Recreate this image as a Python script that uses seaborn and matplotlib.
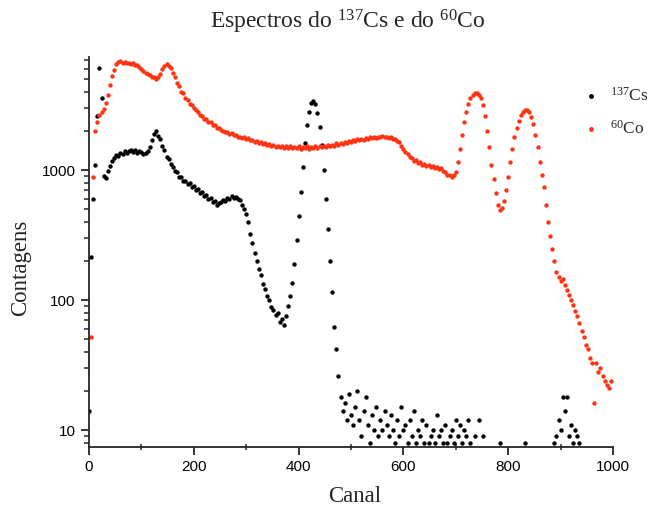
import numpy as np
import pandas as pd
import matplotlib
matplotlib.use("Agg")
import matplotlib.pyplot as plt
import matplotlib.ticker as mticker
import seaborn as sns

nan = np.nan

# channel numbers (every 4th channel of the MCA)
canal = np.arange(0, 1000, 4)

# 137Cs counts
cs_contagens = [
    14, 215, 600, 1100, 2600, 6100, 3600, 900, 870, 980,
    1080, 1170, 1240, 1310, 1290, 1350, 1320, 1390, 1340, 1400,
    1420, 1370, 1430, 1350, 1410, 1380, 1320, 1360, 1400, 1490,
    1700, 1880, 2000, 1830, 1740, 1540, 1420, 1270, 1210, 1110,
    1060, 980, 960, 890, 880, 830, 820, 780, 790, 740,
    750, 700, 720, 670, 680, 630, 640, 600, 610, 570,
    580, 540, 560, 570, 590, 580, 610, 600, 630, 610,
    625, 600, 585, 540, 505, 460, 400, 320, 275, 230,
    200, 172, 155, 132, 122, 108, 100, 88, 84, 76,
    80, 68, 72, 64, 75, 90, 108, 135, 190, 290,
    440, 680, 1050, 1600, 2200, 2800, 3250, 3400, 3200, 2750,
    2150, 1550, 1000, 600, 350, 200, 115, 62, 42, 26,
    18, 14, 16, 12, 19, 13, 11, 15, 20, 12,
    9, 14, 18, 11, 8, 13, 10, 15, 9, 12,
    10, 14, 11, 9, 13, 10, 8, 12, 9, 15,
    10, 11, 8, 12, 9, 14, 8, 10, 9, 12,
    8, 11, 8, 9, 10, 8, 13, 9, 10, 8,
    11, 8, 9, 10, 8, 12, 9, 11, 8, 10,
    9, 12, 8, nan, 9, nan, 12, nan, 9, nan,
    nan, nan, nan, nan, nan, nan, 8, nan, nan, nan,
    nan, nan, nan, nan, nan, nan, nan, nan, 8, nan,
    nan, nan, nan, nan, nan, nan, nan, nan, nan, nan,
    nan, nan, 8, 9, 12, 10, 18, 14, 18, 9,
    11, 8, 10, 9, 8, nan, nan, nan, nan, nan,
    nan, nan, nan, nan, nan, nan, nan, nan, nan, nan,
]

# 60Co counts
co_contagens = [
    nan, 52, 890, 2000, 2350, 2650, 2800, 2950, 3300, 3800,
    4500, 5250, 5850, 6550, 6750, 6850, 6700, 6800, 6650, 6700,
    6550, 6600, 6400, 6450, 6200, 6000, 5750, 5600, 5450, 5350,
    5200, 5150, 5000, 5200, 5450, 6000, 6300, 6550, 6350, 6050,
    5550, 5150, 4650, 4400, 4000, 3900, 3550, 3450, 3200, 3150,
    3000, 2870, 2800, 2660, 2620, 2480, 2470, 2350, 2320, 2230,
    2220, 2120, 2110, 2030, 2010, 1950, 1970, 1890, 1910, 1850,
    1870, 1800, 1810, 1760, 1780, 1730, 1750, 1690, 1710, 1650,
    1670, 1620, 1640, 1580, 1610, 1550, 1580, 1530, 1560, 1510,
    1540, 1490, 1520, 1480, 1530, 1470, 1520, 1480, 1510, 1470,
    1530, 1460, 1510, 1470, 1520, 1450, 1500, 1480, 1520, 1470,
    1520, 1490, 1530, 1500, 1550, 1520, 1570, 1540, 1600, 1570,
    1620, 1590, 1640, 1610, 1670, 1640, 1700, 1670, 1720, 1690,
    1740, 1710, 1760, 1730, 1780, 1750, 1800, 1770, 1810, 1780,
    1820, 1780, 1810, 1760, 1790, 1740, 1720, 1660, 1630, 1540,
    1460, 1370, 1330, 1250, 1240, 1180, 1190, 1140, 1150, 1100,
    1120, 1080, 1100, 1060, 1080, 1040, 1060, 1020, 1030, 990,
    970, 920, 910, 880, 920, 970, 1150, 1450, 1850, 2350,
    2800, 3200, 3550, 3750, 3880, 3900, 3800, 3550, 3150, 2600,
    2000, 1500, 1100, 850, 660, 540, 490, 510, 580, 700,
    880, 1150, 1450, 1800, 2100, 2400, 2650, 2800, 2880, 2900,
    2800, 2550, 2250, 1850, 1500, 1150, 920, 740, 540, 400,
    310, 245, 200, 165, 150, 140, 145, 130, 120, 110,
    100, 92, 82, 75, 66, 58, 52, 45, 42, 36,
    33, 16, 33, 28, 30, 26, 24, 22, 21, 24,
]

COLOUR_CS = "#000000"
COLOUR_CO = "#ff3311"

sns.set_style("ticks")
plt.rcParams["font.family"] = ["Liberation Sans", "DejaVu Sans"]
plt.rcParams["mathtext.fontset"] = "custom"
plt.rcParams["mathtext.rm"] = "Liberation Serif"
plt.rcParams["mathtext.default"] = "regular"

df = pd.DataFrame(
    {
        "Canal": canal,
        "cs": np.array(cs_contagens, dtype=float),
        "co": np.array(co_contagens, dtype=float),
    }
)

fig = plt.figure(figsize=(6.59, 5.14), dpi=100)
ax = fig.add_axes([89 / 659, 67 / 514, 524 / 659, 390 / 514])

sns.scatterplot(
    data=df, x="Canal", y="cs", ax=ax, color=COLOUR_CS, s=10,
    linewidth=0, label="$^{137}$Cs",
)
sns.scatterplot(
    data=df, x="Canal", y="co", ax=ax, color=COLOUR_CO, s=10,
    linewidth=0, label="$^{60}$Co",
)

ax.set_yscale("log")
ax.set_xlim(0, 1000)
ax.set_ylim(7.4, 7400)
ax.set_yticks([10, 100, 1000])
ax.set_yticklabels(["10", "100", "1000"])
ax.yaxis.set_minor_locator(mticker.LogLocator(base=10, subs=np.arange(2, 10)))
ax.yaxis.set_minor_formatter(mticker.NullFormatter())
ax.xaxis.set_major_locator(mticker.MultipleLocator(200))
ax.xaxis.set_minor_locator(mticker.MultipleLocator(100))
ax.tick_params(which="major", direction="out", length=6, width=1.1,
               labelsize=11, colors="black")
ax.tick_params(which="minor", direction="out", length=3.5, width=1.1)
ax.tick_params(axis="x", which="minor", direction="inout", length=5)
for side in ["top", "right"]:
    ax.spines[side].set_visible(False)
for side in ["left", "bottom"]:
    ax.spines[side].set_linewidth(1.3)
ax.set_xlabel("")
ax.set_ylabel("")

serif = ["Liberation Serif", "DejaVu Serif"]
fig.text(0.527, 0.957, "Espectros do $^{137}$Cs e do $^{60}$Co",
         ha="center", va="center", fontsize=17, family=serif)
fig.text(0.031, 1 - 268 / 514, "Contagens", rotation=90,
         ha="center", va="center", fontsize=16.5, family=serif)
fig.text(355 / 659, 1 - 497 / 514, "Canal",
         ha="center", va="center", fontsize=16.5, family=serif)

ax.get_legend().remove()
fig.legend(
    loc="center left",
    bbox_to_anchor=(0.862, 0.782),
    frameon=False,
    handlelength=0.8,
    handletextpad=0.7,
    labelspacing=0.9,
    markerscale=1.1,
    prop={"family": serif, "size": 12.5},
)

fig.savefig("out.png", dpi=100)
